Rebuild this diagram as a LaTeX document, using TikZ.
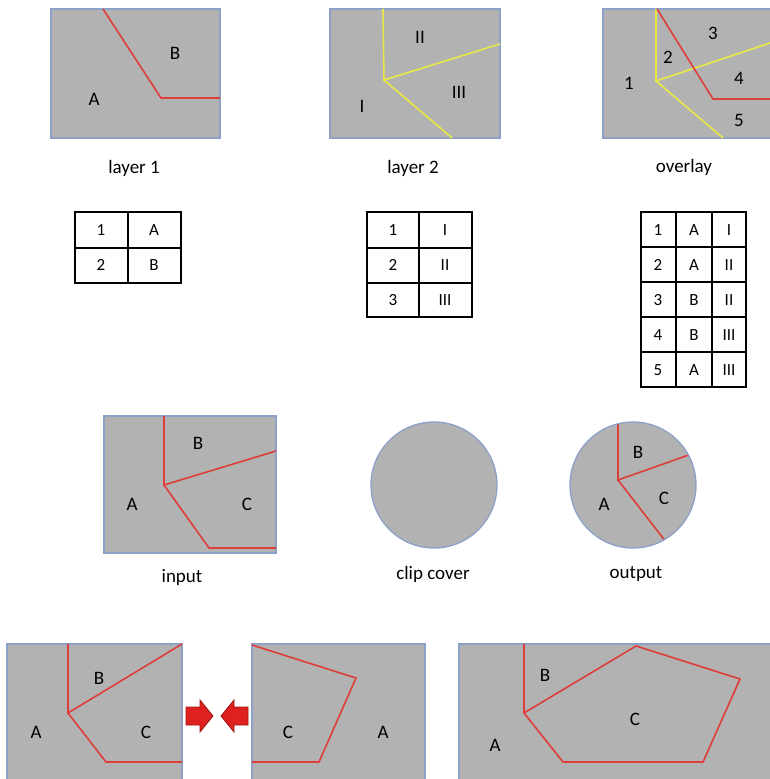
\documentclass[tikz,border=0pt]{standalone}
\usepackage{fontspec}
\setmainfont{Carlito}
\usepackage{tikz}
\usetikzlibrary{positioning}
\definecolor{MapGray}{RGB}{178,178,178}
\definecolor{EdgeBlue}{RGB}{140,160,200}
\definecolor{CutRed}{RGB}{222,62,56}
\definecolor{CutYellow}{RGB}{232,232,70}
\definecolor{ArrowRed}{RGB}{222,32,30}
\tikzset{
  region/.style={draw=EdgeBlue,fill=MapGray,line width=1.3pt},
  redcut/.style={draw=CutRed,line width=1.6pt},
  yellowcut/.style={draw=CutYellow,line width=1.6pt},
  tab/.style={draw=black,line width=1.2pt},
  lbl/.style={inner sep=0pt,font=\fontsize{19}{21}\selectfont},
  capline/.style={inner sep=0pt,anchor=base,font=\fontsize{19}{22}\selectfont},
  cell/.style={inner sep=0pt,font=\fontsize{17}{19}\selectfont},
  block/.style={fill=ArrowRed,draw=ArrowRed!70!black,line width=0.8pt},
}

\begin{document}
\begin{tikzpicture}[x=1pt,y=-1pt]
\useasboundingbox (0,0) rectangle (770,779);
\clip (0,0) rectangle (770,779);
% layer 1
\draw[region] (51,9) rectangle (220,138);
\coordinate (a1) at (103,9);
\coordinate (a2) at (161,98);
\coordinate (a3) at (220,98);
\draw[redcut] (a1)--(a2)--(a3);
\node[lbl] (l1A) at (94,99) {A};
\node[lbl] (l1B) at (175,53) {B};
\node[capline] (l1cap) at (134,173) {layer 1};
% layer 2
\draw[region] (330,9) rectangle (500,138);
\coordinate (b1) at (383,9);
\coordinate (b2) at (384,80);
\coordinate (b3) at (500,44);
\coordinate (b4) at (452,138);
\draw[yellowcut] (b1)--(b2)--(b3);
\draw[yellowcut] (b2)--(b4);
\node[lbl] (l2I) at (362,106) {I};
\node[lbl] (l2II) at (420,37) {II};
\node[lbl] (l2III) at (459,92) {III};
\node[capline] (l2cap) at (413,173) {layer 2};
% overlay
\draw[region] (603,9) rectangle (775,138);
\coordinate (c1) at (656,9);
\coordinate (c2) at (656,81);
\coordinate (c3) at (770,43);
\coordinate (c4) at (723,138);
\coordinate (d1) at (657,9);
\coordinate (d2) at (713,99);
\coordinate (d3) at (775,99);
\draw[yellowcut] (c1)--(c2)--(c3);
\draw[yellowcut] (c2)--(c4);
\draw[redcut] (d1)--(d2)--(d3);
\node[lbl] (ov1) at (629,83) {1};
\node[lbl] (ov2) at (668,57) {2};
\node[lbl] (ov3) at (713,33) {3};
\node[lbl] (ov4) at (739,78) {4};
\node[lbl] (ov5) at (739,120) {5};
\node[capline] (ovcap) at (684,172) {overlay};
% attribute tables
\draw[tab] (75,212) rectangle (181,283);
\draw[tab] (128,212)--(128,283);
\draw[tab] (75,248)--(181,248);
\node[cell] (t1a) at (101,230) {1};
\node[cell] (t1b) at (154,230) {A};
\node[cell] (t1c) at (101,265) {2};
\node[cell] (t1d) at (154,265) {B};
\draw[tab] (367,212) rectangle (472,317);
\draw[tab] (419,212)--(419,317);
\draw[tab] (367,248)--(472,248);
\draw[tab] (367,283)--(472,283);
\node[cell] (t2a) at (393,230) {1};
\node[cell] (t2b) at (445,230) {I};
\node[cell] (t2c) at (393,265) {2};
\node[cell] (t2d) at (445,265) {II};
\node[cell] (t2e) at (393,300) {3};
\node[cell] (t2f) at (445,300) {III};
\draw[tab] (641,212) rectangle (746,387);
\draw[tab] (676,212)--(676,387);
\draw[tab] (712,212)--(712,387);
\draw[tab] (641,247)--(746,247);
\draw[tab] (641,282)--(746,282);
\draw[tab] (641,317)--(746,317);
\draw[tab] (641,352)--(746,352);
\node[cell] (t3a) at (658,230) {1};
\node[cell] (t3b) at (694,230) {A};
\node[cell] (t3c) at (729,230) {I};
\node[cell] (t3d) at (658,265) {2};
\node[cell] (t3e) at (694,265) {A};
\node[cell] (t3f) at (729,265) {II};
\node[cell] (t3g) at (658,300) {3};
\node[cell] (t3h) at (694,300) {B};
\node[cell] (t3i) at (729,300) {II};
\node[cell] (t3j) at (658,335) {4};
\node[cell] (t3k) at (694,335) {B};
\node[cell] (t3l) at (729,335) {III};
\node[cell] (t3m) at (658,370) {5};
\node[cell] (t3n) at (694,370) {A};
\node[cell] (t3o) at (729,370) {III};
% input
\draw[region] (104,416) rectangle (276,553);
\coordinate (e1) at (164,416);
\coordinate (e2) at (164,485);
\coordinate (e3) at (276,451);
\coordinate (e4) at (209,548);
\coordinate (e5) at (276,548);
\draw[redcut] (e1)--(e2)--(e3);
\draw[redcut] (e2)--(e4)--(e5);
\node[lbl] (inA) at (132,504) {A};
\node[lbl] (inB) at (198,443) {B};
\node[lbl] (inC) at (247,504) {C};
\node[capline] (incap) at (182,582) {input};
% clip cover
\coordinate (cc) at (434,485);
\draw[region] (cc) circle[radius=63pt];
\node[capline] (cccap) at (433,579) {clip cover};
% output
\coordinate (oc) at (633,485);
\fill[MapGray] (oc) circle[radius=63pt];
\begin{scope}
\clip (oc) circle[radius=63pt];
\coordinate (o1) at (618,400);
\coordinate (o2) at (618,480);
\coordinate (o3) at (700,451);
\coordinate (o4) at (680,560);
\draw[redcut] (o1)--(o2)--(o3);
\draw[redcut] (o2)--(o4);
\end{scope}
\draw[EdgeBlue,line width=1.3pt] (oc) circle[radius=63pt];
\node[lbl] (outA) at (604,504) {A};
\node[lbl] (outB) at (638,452) {B};
\node[lbl] (outC) at (664,498) {C};
\node[capline] (outcap) at (636,578) {output};
% bottom row
\draw[region] (7,644) rectangle (182,790);
\coordinate (f1) at (68,644);
\coordinate (f2) at (68,713);
\coordinate (f3) at (182,644);
\coordinate (f4) at (106,762);
\coordinate (f5) at (182,762);
\draw[redcut] (f1)--(f2)--(f3);
\draw[redcut] (f2)--(f4)--(f5);
\node[lbl] (fA) at (36,732) {A};
\node[lbl] (fB) at (99,678) {B};
\node[lbl] (fC) at (146,732) {C};
\draw[block] (186,707)--(200,707)--(200,700)--(213,716)--(200,732)--(200,725)--(186,725)--cycle;
\draw[block] (248,707)--(234,707)--(234,700)--(221,716)--(234,732)--(234,725)--(248,725)--cycle;
\draw[region] (252,644) rectangle (425,790);
\coordinate (g1) at (252,645);
\coordinate (g2) at (356,678);
\coordinate (g3) at (319,762);
\coordinate (g4) at (252,762);
\draw[redcut] (g1)--(g2)--(g3)--(g4);
\node[lbl] (gC) at (288,732) {C};
\node[lbl] (gA) at (383,732) {A};
\draw[region] (459,644) rectangle (780,790);
\coordinate (h1) at (524,644);
\coordinate (h2) at (524,713);
\coordinate (h3) at (636,646);
\coordinate (h4) at (740,679);
\coordinate (h5) at (703,762);
\coordinate (h6) at (563,762);
\draw[redcut] (h1)--(h2);
\draw[redcut] (h2)--(h3)--(h4)--(h5)--(h6)--cycle;
\node[lbl] (hA) at (495,745) {A};
\node[lbl] (hB) at (545,675) {B};
\node[lbl] (hC) at (635,719) {C};
\end{tikzpicture}
\end{document}
